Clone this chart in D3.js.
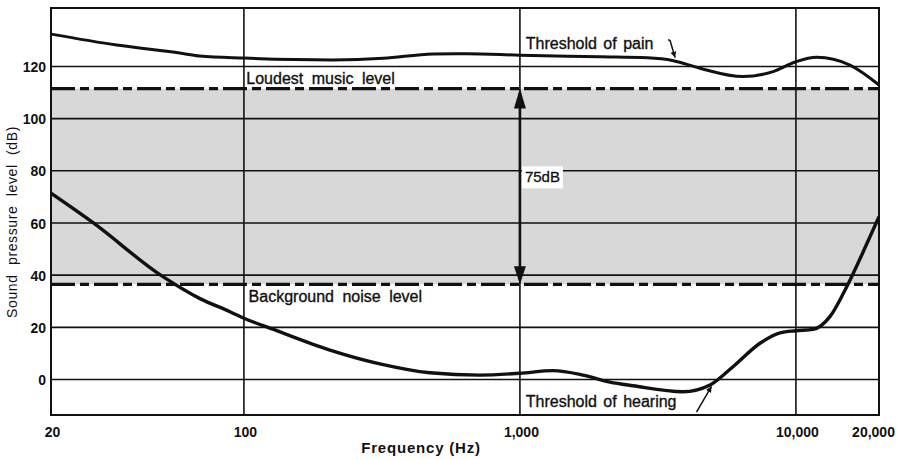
<!DOCTYPE html>
<html>
<head>
<meta charset="utf-8">
<script src="https://cdn.jsdelivr.net/npm/d3@7"></script>
<style>
  body { margin: 0; background: #fff; }
  text { font-family: "Liberation Sans", Arial, sans-serif; fill: #111; }
</style>
</head>
<body>
<div id="chart"></div>
<script>
// threshold of pain (Hz / dB)
var painFreq = [20, 34.6, 60, 69.3, 100, 210, 320, 484, 643, 1000, 1950, 2900, 3600, 4490, 6430, 8260, 10000, 11900, 15700, 20000];
var painDb   = [132.4, 128.2, 125.0, 124.0, 123.2, 122.5, 123.1, 124.8, 124.9, 124.3, 123.7, 123.3, 122.2, 119.3, 116.1, 118, 121.8, 123.5, 120.5, 112.9];

// threshold of hearing (Hz / dB)
var hearFreq = [20, 28.4, 50.4, 69.3, 89, 100, 128, 205, 311, 472, 716, 1000, 1318, 1693, 2120, 2570, 3900, 4885, 5915, 7410, 8760, 10000, 11530, 13280, 15070, 18100, 20000];
var hearDb   = [71.4, 60.1, 39.7, 31.0, 26.0, 23.5, 19.2, 11.3, 6.0, 2.6, 1.7, 2.4, 3.4, 1.7, -1.0, -2.4, -4.7, -2.1, 4.9, 13.9, 17.9, 18.7, 19.2, 24.1, 34.3, 52.2, 62.4];

var musicLevel = 111.5;
var noiseLevel = 36.5;
var rangeLabel = "75dB";

var xTicks = [20, 100, 1000, 10000, 20000];
var xTickLabels = ["20", "100", "1,000", "10,000", "20,000"];
var xGrid = [100, 1000, 10000];
var yTicks = [0, 20, 40, 60, 80, 100, 120];

var W = 907, H = 460;
var margin = {top: 8, right: 28, bottom: 45, left: 51};

var svg = d3.select("#chart").append("svg")
            .attr("width", W)
            .attr("height", H);

var x = d3.scaleLog().domain([20, 20000]).range([margin.left, W - margin.right]);
var y = d3.scaleLinear().domain([-13.6, 142.4]).range([H - margin.bottom, margin.top]);

var defs = svg.append("defs");
defs.append("clipPath").attr("id", "plotclip")
    .append("rect")
    .attr("x", x(20)).attr("y", y(142.4))
    .attr("width", x(20000) - x(20)).attr("height", y(-13.6) - y(142.4));

function arrowMarker(id, orient) {
    defs.append("marker")
        .attr("id", id)
        .attr("viewBox", "0 0 10 10")
        .attr("refX", 10).attr("refY", 5)
        .attr("markerWidth", 4).attr("markerHeight", 6)
        .attr("markerUnits", "strokeWidth")
        .attr("orient", orient)
        .append("path")
        .attr("d", "M0,0 L10,5 L0,10 z")
        .attr("fill", "#111");
}
arrowMarker("arrowEnd", "auto");

// shaded band between the loudest music and background noise
svg.append("rect")
    .attr("x", x(20))
    .attr("y", y(musicLevel))
    .attr("width", x(20000) - x(20))
    .attr("height", y(noiseLevel) - y(musicLevel))
    .attr("fill", "#d8d8d8");

// horizontal grid
svg.append("g").selectAll("line")
    .data(yTicks).enter().append("line")
    .attr("x1", x(20)).attr("x2", x(20000))
    .attr("y1", function(d) { return y(d); })
    .attr("y2", function(d) { return y(d); })
    .attr("stroke", "#111").attr("stroke-width", 1.6);

// vertical grid
svg.append("g").selectAll("line")
    .data(xGrid).enter().append("line")
    .attr("x1", function(d) { return x(d); })
    .attr("x2", function(d) { return x(d); })
    .attr("y1", y(142.4)).attr("y2", y(-13.6))
    .attr("stroke", "#111").attr("stroke-width", 1.6);

// frame
svg.append("rect")
    .attr("x", x(20)).attr("y", y(142.4))
    .attr("width", x(20000) - x(20)).attr("height", y(-13.6) - y(142.4))
    .attr("fill", "none").attr("stroke", "#111").attr("stroke-width", 2);

// dashed level lines
[musicLevel, noiseLevel].forEach(function(v) {
    svg.append("line")
        .attr("x1", x(20)).attr("x2", x(20000))
        .attr("y1", y(v)).attr("y2", y(v))
        .attr("stroke", "#111").attr("stroke-width", 3.2)
        .attr("stroke-dasharray", "24,5,9,5");
});

// curves
var line = d3.line()
    .x(function(d) { return x(d[0]); })
    .y(function(d) { return y(d[1]); })
    .curve(d3.curveMonotoneX);

var painData = painFreq.map(function(f, i) { return [f, painDb[i]]; });
var hearData = hearFreq.map(function(f, i) { return [f, hearDb[i]]; });

var curves = svg.append("g").attr("clip-path", "url(#plotclip)");
curves.append("path").datum(painData)
    .attr("d", line).attr("fill", "none")
    .attr("stroke", "#111").attr("stroke-width", 3);
curves.append("path").datum(hearData)
    .attr("d", line).attr("fill", "none")
    .attr("stroke", "#111").attr("stroke-width", 3.4);

// 75 dB double arrow at 1 kHz
svg.append("line")
    .attr("x1", x(1000)).attr("x2", x(1000))
    .attr("y1", y(musicLevel) + 4).attr("y2", y(noiseLevel) - 4)
    .attr("stroke", "#111").attr("stroke-width", 2.6);
svg.append("path")
    .attr("d", "M" + x(1000) + "," + y(musicLevel) + " l-6,20 l12,0 z")
    .attr("fill", "#111");
svg.append("path")
    .attr("d", "M" + x(1000) + "," + y(noiseLevel) + " l-6,-18 l12,0 z")
    .attr("fill", "#111");

var midY = y(77.5);
svg.append("rect")
    .attr("x", x(1000) + 2).attr("y", midY - 11)
    .attr("width", 41).attr("height", 22)
    .attr("fill", "#fff");
svg.append("text")
    .attr("x", x(1000) + 5).attr("y", midY + 5)
    .style("font-size", "15px")
    .style("stroke", "#111").style("stroke-width", "0.3px")
    .text(rangeLabel);

// annotation labels
function label(txt, xv, yv, ws) {
    return svg.append("text")
        .attr("x", xv).attr("y", yv)
        .style("font-size", "16px")
        .style("word-spacing", ws + "px")
        .style("stroke", "#111").style("stroke-width", "0.35px")
        .text(txt);
}
label("Loudest music level", x(102), y(musicLevel) - 5, 4);
label("Background noise level", x(104), y(noiseLevel) + 18, 4);
label("Threshold of pain", x(1050), y(musicLevel) - 40, 2);
label("Threshold of hearing", x(1050), y(-10.5), 2);

// pointer lines
svg.append("path")
    .attr("d", "M" + (x(3500) - 2) + "," + (y(musicLevel) - 49) +
               " L" + x(3500) + "," + (y(musicLevel) - 48) +
               " L" + (x(3500) + 5) + "," + (y(musicLevel) - 31))
    .attr("fill", "none").attr("stroke", "#111").attr("stroke-width", 1.5)
    .attr("marker-end", "url(#arrowEnd)");
svg.append("path")
    .attr("d", "M" + (x(4400) - 1) + "," + y(-12.5) + " L" + (x(4400) + 14) + "," + y(-2.6))
    .attr("fill", "none").attr("stroke", "#111").attr("stroke-width", 1.5)
    .attr("marker-end", "url(#arrowEnd)");

// y axis labels
var yAxis = d3.axisLeft(y).tickValues(yTicks).tickSize(0).tickPadding(5);
var gy = svg.append("g")
    .attr("transform", "translate(" + x(20) + ",0)")
    .call(yAxis);
gy.select(".domain").remove();
gy.selectAll("text")
    .style("font-size", "14px").style("font-weight", "bold")
    .attr("dy", "0.36em");

// x axis labels
var xAxis = d3.axisBottom(x).tickValues(xTicks).tickSize(0).tickPadding(12)
    .tickFormat(function(d, i) { return xTickLabels[i]; });
var gx = svg.append("g")
    .attr("transform", "translate(0," + y(-13.6) + ")")
    .call(xAxis);
gx.select(".domain").remove();
gx.selectAll("text")
    .style("font-size", "14px").style("font-weight", "bold")
    .attr("dx", function(d) { return d == 20000 ? "-6px" : "1px"; });

// axis titles
svg.append("text")
    .attr("x", 421).attr("y", 453)
    .attr("text-anchor", "middle")
    .style("font-size", "15px").style("font-weight", "bold")
    .style("letter-spacing", "0.8px")
    .text("Frequency (Hz)");

svg.append("text")
    .attr("transform", "translate(17," + 222 + ") rotate(-90)")
    .attr("text-anchor", "middle")
    .style("font-size", "14px")
    .style("letter-spacing", "0.6px")
    .style("word-spacing", "5px")
    .text("Sound pressure level (dB)");
</script>
</body>
</html>
